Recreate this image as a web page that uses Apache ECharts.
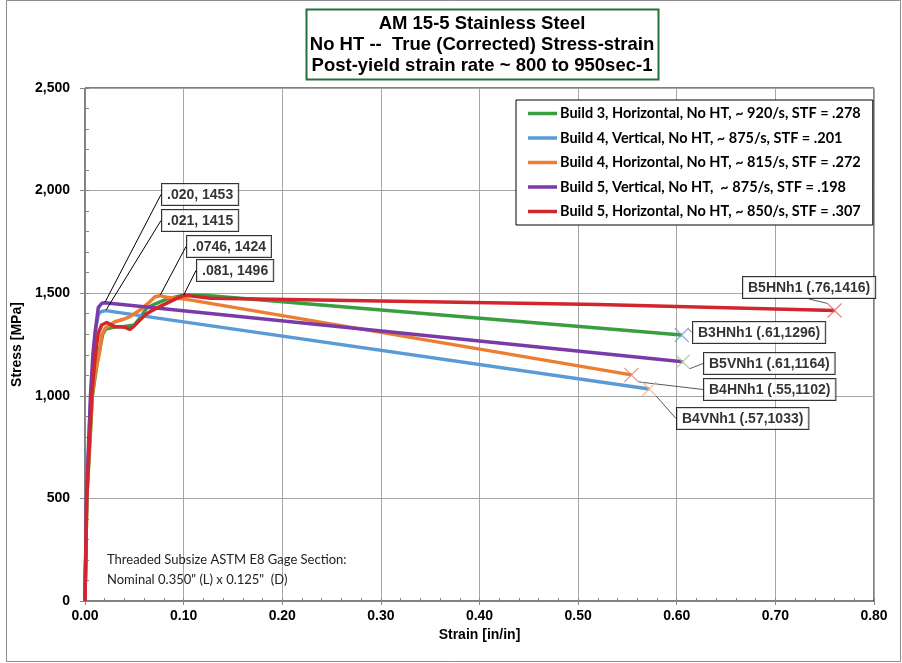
<!DOCTYPE html>
<html><head><meta charset="utf-8">
<script src="https://cdn.jsdelivr.net/npm/echarts@6/dist/echarts.min.js"></script>
<style>html,body{margin:0;padding:0;background:#fff}#c{width:902px;height:663px}</style>
</head><body><div id="c"></div>
<script>
// ---------- DATA ----------
const seriesNames = [
  'Build 3, Horizontal, No HT, ~ 920/s, STF = .278',
  'Build 4, Vertical, No HT, ~ 875/s, STF = .201',
  'Build 4, Horizontal, No HT, ~ 815/s, STF = .272',
  'Build 5, Vertical, No HT,  ~ 875/s, STF = .198',
  'Build 5, Horizontal, No HT, ~ 850/s, STF = .307'
];
// Build 3 Horizontal (green)
const b3hStrain = [0, 0.0019, 0.0075, 0.012, 0.015, 0.018, 0.021, 0.030, 0.040, 0.050, 0.055, 0.0625, 0.0726, 0.0828, 0.0963, 0.103, 0.127, 0.605];
const b3hStress = [0, 500, 1000, 1150, 1230, 1300, 1325, 1335, 1338, 1345, 1375, 1427, 1451, 1471, 1487, 1492, 1487, 1296];
// Build 4 Vertical (blue)
const b4vStrain = [0, 0.0016, 0.006, 0.009, 0.011, 0.0135, 0.016, 0.021, 0.572];
const b4vStress = [0, 500, 1000, 1220, 1330, 1395, 1410, 1415, 1033];
// Build 4 Horizontal (orange)
const b4hStrain = [0, 0.0018, 0.0072, 0.010, 0.0125, 0.0152, 0.0169, 0.0203, 0.0253, 0.0304, 0.0389, 0.0456, 0.0507, 0.0557, 0.0608, 0.0659, 0.071, 0.076, 0.0828, 0.093, 0.103, 0.554];
const b4hStress = [0, 500, 1000, 1100, 1160, 1223, 1296, 1329, 1345, 1361, 1373, 1386, 1402, 1418, 1438, 1459, 1483, 1488, 1480, 1475, 1470, 1102];
// Build 5 Vertical (purple)
const b5vStrain = [0, 0.0015, 0.0055, 0.008, 0.010, 0.012, 0.0135, 0.017, 0.020, 0.606];
const b5vStress = [0, 500, 1000, 1200, 1300, 1375, 1430, 1451, 1453, 1166];
// Build 5 Horizontal (red)
const b5hStrain = [0, 0.0017, 0.0068, 0.0095, 0.0118, 0.0135, 0.0169, 0.022, 0.027, 0.0304, 0.0355, 0.0405, 0.0456, 0.049, 0.054, 0.0608, 0.0659, 0.0726, 0.0794, 0.0862, 0.093, 0.0996, 0.1064, 0.127, 0.52, 0.76];
const b5hStress = [0, 500, 1000, 1150, 1248, 1305, 1345, 1357, 1345, 1337, 1337, 1334, 1324, 1337, 1361, 1394, 1410, 1427, 1443, 1459, 1475, 1487, 1487, 1475, 1445, 1416];

// peak annotations (purple, blue, orange, red) and end annotations (red, green, purple, orange, blue)
const peakLabels = ['.020, 1453', '.021, 1415', '.0746, 1424', '.081, 1496'];
const endLabels = ['B5HNh1 (.76,1416)', 'B3HNh1 (.61,1296)', 'B5VNh1 (.61,1164)', 'B4HNh1 (.55,1102)', 'B4VNh1 (.57,1033)'];
const xTickLabels = ['0.00','0.10','0.20','0.30','0.40','0.50','0.60','0.70','0.80'];
const yTickLabels = ['0','500','1,000','1,500','2,000','2,500'];

// ---------- STYLE / LAYOUT ----------
const colors = ['#3a9d3f', '#5b9bd5', '#ed7d31', '#7a3ba8', '#d0262d'];
const endMarkColors = ['#e06a6a', '#6f9fd6', '#a8c98a', '#e27a63', '#f2b183'];
const peakLabelPos = [[162, 184], [162, 210], [187, 236], [197, 260]];
const endLabelPos = [[743, 277], [693, 322], [704, 353], [704, 379], [677, 408]];

const strains = [b3hStrain, b4vStrain, b4hStrain, b5vStrain, b5hStrain];
const stresses = [b3hStress, b4vStress, b4hStress, b5vStress, b5hStress];
const pairs = strains.map((s, i) => s.map((x, j) => [x, stresses[i][j]]));
function peakOf(i) { let best = 0; stresses[i].forEach((v, j) => { if (v > stresses[i][best]) best = j; }); return pairs[i][best]; }
const peakPts = [peakOf(3), peakOf(1), peakOf(2), peakOf(4)];
const endOrder = [4, 0, 3, 2, 1];
const endPts = endOrder.map(i => pairs[i][pairs[i].length - 1]);

const lineSeries = seriesNames.map((n, i) => ({
  name: n, type: 'line', data: pairs[i], symbol: 'none', showSymbol: false,
  lineStyle: { width: 3.5, color: colors[i], join: 'round' }, itemStyle: { color: colors[i] },
  z: 2 + i, animation: false
}));

const chart = echarts.init(document.getElementById('c'), null, { renderer: 'canvas' });
const labelBase = {
  show: true, fontFamily: 'Liberation Sans, Arial, sans-serif', fontWeight: 'bold', fontSize: 14,
  color: '#000', backgroundColor: '#fff', borderColor: '#000', borderWidth: 1, padding: [4, 5, 3, 5]
};
chart.setOption({
  animation: false,
  backgroundColor: '#fff',
  grid: { left: 85, right: 28, top: 88, bottom: 62, show: true, borderColor: '#000', borderWidth: 1, containLabel: false, outerBoundsMode: 'none' },
  legend: {
    data: seriesNames, orient: 'vertical', left: 516, top: 100,
    backgroundColor: '#fff', borderColor: '#000', borderWidth: 1,
    padding: [5, 12, 5, 12], itemGap: 7.5, itemWidth: 29, itemHeight: 3.5, icon: 'rect',
    textStyle: { fontFamily: 'Lato, sans-serif', fontWeight: 'bold', fontSize: 14.5, color: '#000', lineHeight: 17, padding: [0, 0, 0, -2] },
    z: 20
  },
  xAxis: [{
    type: 'value', min: 0, max: 0.8, interval: 0.1, position: 'bottom',
    axisLine: { onZero: false, lineStyle: { color: '#868686', width: 1 } },
    axisTick: { show: true, length: 4, lineStyle: { color: '#868686' } },
    axisLabel: { margin: 8, color: '#000', fontFamily: 'Liberation Sans, Arial', fontWeight: 'bold', fontSize: 14,
      formatter: v => xTickLabels[Math.round(v * 10)] },
    splitLine: { show: true, lineStyle: { color: '#a6a6a6', width: 1 } },
    name: 'Strain [in/in]', nameLocation: 'middle', nameGap: 27,
    nameTextStyle: { color: '#000', fontFamily: 'Liberation Sans, Arial', fontWeight: 'bold', fontSize: 14 }
  }, {
    type: 'value', min: 0, max: 0.8, interval: 0.02, position: 'bottom',
    axisLine: { show: false, onZero: false }, axisLabel: { show: false }, splitLine: { show: false },
    axisTick: { show: true, inside: true, length: 3, lineStyle: { color: '#868686' } }
  }],
  yAxis: [{
    type: 'value', min: 0, max: 2500, interval: 500, position: 'left',
    axisLine: { show: true, onZero: false, lineStyle: { color: '#868686', width: 1 } },
    axisTick: { show: true, length: 5, lineStyle: { color: '#868686' } },
    axisLabel: { margin: 15, color: '#000', fontFamily: 'Liberation Sans, Arial', fontWeight: 'bold', fontSize: 14,
      formatter: v => yTickLabels[Math.round(v / 500)] },
    splitLine: { show: true, lineStyle: { color: '#a6a6a6', width: 1 } },
    name: 'Stress [MPa]', nameLocation: 'middle', nameGap: 59,
    nameTextStyle: { color: '#000', fontFamily: 'Liberation Sans, Arial', fontWeight: 'bold', fontSize: 14 }
  }, {
    type: 'value', min: 0, max: 2500, interval: 100, position: 'left',
    axisLine: { show: false, onZero: false }, axisLabel: { show: false }, splitLine: { show: false },
    axisTick: { show: true, inside: true, length: 4, lineStyle: { color: '#868686' } }
  }],
  series: lineSeries.concat([{
    type: 'scatter', data: peakPts, symbolSize: 2, itemStyle: { color: 'rgba(0,0,0,0)' }, z: 15,
    label: Object.assign({}, labelBase, { formatter: p => peakLabels[p.dataIndex] }),
    labelLine: { show: true, lineStyle: { color: '#000', width: 1 } },
    labelLayout: p => ({ x: peakLabelPos[p.dataIndex][0], y: peakLabelPos[p.dataIndex][1], align: 'left', verticalAlign: 'top' })
  }, {
    type: 'scatter', symbol: 'path://M0,0L10,10M10,0L0,10', symbolSize: 14, z: 15,
    data: endPts.map((v, i) => ({ value: v, itemStyle: { color: 'none', borderColor: endMarkColors[i], borderWidth: 1.3 } })),
    label: Object.assign({}, labelBase, { formatter: p => endLabels[p.dataIndex] }),
    labelLine: { show: true, lineStyle: { color: '#595959', width: 1 } },
    labelLayout: p => ({ x: endLabelPos[p.dataIndex][0], y: endLabelPos[p.dataIndex][1], align: 'left', verticalAlign: 'top' })
  }]),
  graphic: [
    { type: 'rect', shape: { x: 6.5, y: 0.5, width: 894, height: 661 }, style: { fill: 'none', stroke: '#8c8c8c', lineWidth: 1 }, z: -10, silent: true },
    { type: 'rect', shape: { x: 306.5, y: 9.5, width: 352, height: 70 }, style: { fill: '#fff', stroke: '#23703a', lineWidth: 2 }, z: 30 },
    { type: 'text', x: 482, y: 45, z: 31, style: { text: 'AM 15-5 Stainless Steel\nNo HT --  True (Corrected) Stress-strain\nPost-yield strain rate ~ 800 to 950sec-1',
      fill: '#000', font: 'bold 18.5px "Liberation Sans", Arial', align: 'center', verticalAlign: 'middle', lineHeight: 21 } },
    { type: 'text', x: 107, y: 550, z: 31, style: { text: 'Threaded Subsize ASTM E8 Gage Section:\nNominal 0.350" (L) x 0.125"  (D)',
      fill: '#222', font: '13px Lato, sans-serif', align: 'left', verticalAlign: 'top', lineHeight: 20 } }
  ]
});
</script></body></html>
